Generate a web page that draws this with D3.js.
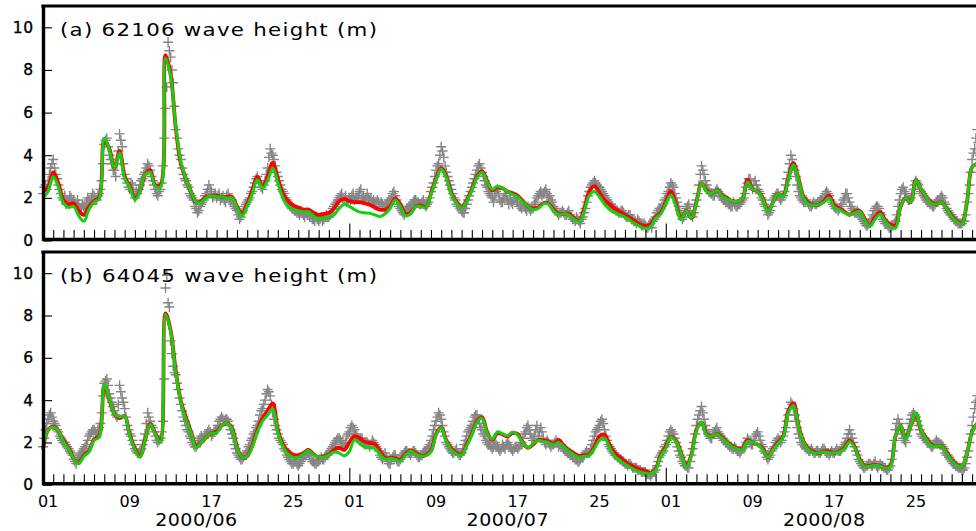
<!DOCTYPE html>
<html><head><meta charset="utf-8">
<script src="https://cdn.jsdelivr.net/npm/d3@7/dist/d3.min.js"></script>
<style>html,body{margin:0;padding:0;background:#fff;overflow:hidden}</style>
</head><body>
<svg id="c" width="976" height="531"></svg>
<script>
// ---------------- data ----------------
const startUTC = [2000, 5, 1];      // 2000-06-01
const endUTC = [2000, 8, 1];        // 2000-09-01
const lineStepDays = 0.5;           // model series: every 12 h
const obsStepDays = 0.125;          // buoy observations: every 3 h
const yTicks = [0, 2, 4, 6, 8, 10];
const dayLabels = ["01", "09", "17", "25"];
const monthLabels = ["2000/06", "2000/07", "2000/08"];
const titleA = "(a) 62106 wave height (m)";
const titleB = "(b) 64045 wave height (m)";

// observations, 8 per day
const obsA = [
2.2,2.5,2.6,2.4,2.8,3.1,3.4,3.6, 3.8,3.4,3.1,2.9,2.6,2.4,2.2,2.0,
1.9,2.1,1.7,1.9,1.8,2.1,2.0,1.8, 1.9,1.7,1.6,1.9,1.7,1.5,1.5,1.7,
1.6,1.5,1.8,2.0,1.9,1.7,2.0,2.2, 2.1,1.9,1.9,2.1,2.2,2.4,2.8,3.6,
4.5,4.7,4.8,4.4,4.0,3.8,3.6,3.3, 3.3,3.0,3.6,4.2,5.0,4.7,4.4,3.6,
3.1,2.9,2.7,2.5,2.4,2.7,2.6,2.3, 2.0,2.3,2.2,2.4,2.6,2.8,2.9,3.1,
3.2,3.4,3.6,3.5,3.3,3.0,2.8,2.6, 2.4,2.2,2.1,2.3,2.4,2.7,3.5,4.8,
6.2,7.2,9.3,8.9,8.6,8.0,7.4,6.3, 5.2,4.8,4.3,4.0,3.8,3.4,3.1,2.9,
2.8,2.6,2.5,2.2,2.1,2.0,1.9,1.6, 1.5,1.3,1.4,1.6,1.7,1.8,1.9,2.1,
2.2,2.4,2.6,2.4,2.3,2.0,2.1,2.2, 2.0,2.1,2.2,1.9,2.0,2.1,1.9,1.8,
2.1,2.2,2.0,1.8,1.9,1.7,1.6,1.5, 1.4,1.2,1.0,1.1,1.3,1.4,1.6,1.7,
1.8,1.9,2.0,2.2,2.3,2.5,2.7,2.9, 3.0,2.8,2.7,2.5,2.4,2.6,2.8,3.1,
3.4,3.9,4.3,4.1,4.0,3.8,3.5,3.2, 3.0,2.8,2.6,2.4,2.3,2.2,2.0,1.9,
1.8,1.7,1.6,1.5,1.5,1.4,1.4,1.3, 1.3,1.2,1.4,1.3,1.2,1.1,1.3,1.2,
1.3,1.1,1.2,1.0,1.0,0.9,1.1,1.0, 0.9,1.0,1.1,0.9,1.0,1.1,1.2,1.1,
1.1,1.2,1.3,1.5,1.6,1.7,1.8,1.9, 2.0,2.1,2.2,2.0,1.9,2.1,1.8,1.9,
2.0,1.9,2.1,2.2,1.9,2.0,2.0,2.1, 2.3,2.4,2.0,2.1,1.9,2.0,2.2,2.0,
1.9,2.0,1.8,1.9,1.7,1.8,1.9,1.8, 1.6,1.8,1.7,1.6,1.5,1.7,1.8,1.9,
1.9,2.0,2.2,2.3,2.1,1.9,1.7,1.6, 1.5,1.4,1.3,1.2,1.4,1.5,1.5,1.6,
1.6,1.7,1.8,1.9,1.9,1.8,1.8,1.7, 1.7,1.8,1.9,1.7,1.6,1.7,1.8,2.0,
2.3,2.5,2.7,3.0,3.3,3.5,3.6,4.0, 4.4,4.2,3.9,3.5,3.2,3.0,2.8,2.6,
2.4,2.2,2.0,1.9,1.7,1.6,1.6,1.5, 1.4,1.3,1.3,1.5,1.7,1.9,2.1,2.3,
2.5,2.7,2.9,3.1,3.3,3.5,3.6,3.4, 3.2,3.0,2.8,2.6,2.5,2.3,2.2,2.1,
2.0,1.8,2.1,2.3,2.4,2.2,1.9,1.8, 1.8,2.0,2.2,2.1,1.9,1.7,2.0,1.8,
1.7,1.9,2.0,1.8,1.8,1.6,1.6,1.5, 1.7,1.6,1.5,1.4,1.6,1.5,1.4,1.5,
1.5,1.7,1.8,2.0,2.1,2.2,2.3,2.1, 2.2,2.3,2.4,2.2,2.0,2.1,1.9,1.8,
1.6,1.5,1.4,1.3,1.2,1.3,1.3,1.4, 1.3,1.2,1.2,1.3,1.4,1.2,1.1,1.0,
1.0,0.9,1.1,1.0,0.9,0.8,1.0,1.1, 1.3,1.5,1.8,2.1,2.3,2.5,2.6,2.7,
2.8,2.7,2.6,2.5,2.5,2.4,2.3,2.2, 2.1,2.0,1.9,1.8,1.7,1.7,1.6,1.5,
1.5,1.4,1.4,1.3,1.3,1.4,1.4,1.3, 1.2,1.1,1.1,1.2,1.2,1.0,1.0,0.9,
0.9,0.8,1.0,0.9,0.8,0.7,0.7,0.8, 0.7,0.6,0.6,0.7,0.8,0.6,0.9,1.0,
1.1,1.3,1.4,1.5,1.5,1.6,1.7,1.9, 2.0,2.2,2.3,2.5,2.7,2.6,2.5,2.2,
2.0,1.8,1.6,1.4,1.2,1.0,1.1,1.3, 1.5,1.6,1.7,1.4,1.2,1.1,1.3,1.6,
1.9,2.2,2.6,3.1,3.5,3.3,3.1,2.8, 2.6,2.4,2.3,2.2,2.2,2.1,2.1,2.3,
2.4,2.3,2.2,2.1,2.0,1.9,1.9,1.8, 1.8,1.7,1.7,1.6,1.6,1.8,1.7,1.6,
1.6,1.7,1.7,1.8,1.9,2.0,2.2,2.5, 2.7,2.9,2.9,2.6,2.4,2.6,2.8,2.6,
2.4,2.3,2.2,2.0,1.9,1.7,1.6,1.4, 1.2,1.3,1.4,1.6,1.9,2.0,2.1,2.2,
2.2,2.0,1.9,2.0,2.1,2.3,2.6,2.9, 3.2,3.6,4.0,3.8,3.5,3.3,3.0,2.6,
2.3,2.1,2.0,1.9,1.8,1.8,1.9,1.8, 1.7,1.6,1.6,1.7,1.8,1.7,1.7,1.8,
1.8,1.9,1.9,2.0,2.0,2.2,2.3,2.2, 2.1,1.9,1.8,1.7,1.6,1.5,1.5,1.4,
1.5,1.6,1.7,1.9,2.0,2.2,2.2,2.0, 1.8,1.6,1.5,1.4,1.3,1.3,1.4,1.3,
1.2,1.1,1.0,0.9,0.8,0.7,0.7,0.8, 0.9,1.0,1.2,1.4,1.5,1.6,1.6,1.5,
1.3,1.2,1.0,0.9,0.8,0.8,0.7,0.6, 0.6,0.7,0.7,0.8,0.9,1.2,1.6,1.9,
2.2,2.4,2.5,2.3,2.2,2.0,1.9,1.9, 2.0,2.2,2.4,2.6,2.8,2.7,2.6,2.4,
2.3,2.2,2.1,2.0,1.9,1.8,1.8,1.7, 1.7,1.6,1.6,1.7,1.8,1.9,1.9,2.0,
2.1,2.0,1.8,1.7,1.5,1.4,1.3,1.2, 1.2,1.1,1.0,0.9,0.9,0.8,0.8,0.8,
0.8,0.9,0.9,1.2,1.8,2.2,2.6,3.2, 3.8,4.1,4.3,4.8,5.2,4.6,4.0,3.9
];
const redA = [
2.3,2.5,3.2,2.7,1.9,1.7,1.75,1.4,1.2,1.6,
1.85,2.0,4.7,4.3,3.4,4.2,3.0,2.55,2.0,2.3,
3.1,3.3,2.6,2.6,8.7,7.8,5.3,3.6,2.9,2.3,
1.8,1.85,2.05,2.1,2.1,2.05,2.05,2.05,1.6,1.25,
1.7,2.35,3.0,2.5,3.0,3.65,2.9,2.2,1.85,1.65,
1.55,1.45,1.45,1.3,1.2,1.25,1.3,1.5,1.85,1.95,
1.85,1.8,1.8,1.75,1.68,1.55,1.45,1.45,1.6,1.98,
1.7,1.25,1.3,1.6,1.65,1.55,2.2,2.9,3.4,3.0,
2.2,1.8,1.55,1.9,2.4,3.0,3.25,2.8,2.35,2.5,
2.45,2.3,2.22,2.1,1.85,1.6,1.5,1.55,1.75,1.75,
1.45,1.25,1.25,1.25,1.05,0.92,1.5,2.3,2.55,2.25,
1.9,1.7,1.5,1.35,1.2,1.05,0.9,0.75,0.68,0.75,
1.1,1.3,1.8,2.33,1.7,1.0,1.4,1.05,1.8,2.69,
2.35,2.2,2.37,2.15,2.0,1.85,1.83,1.95,2.85,2.4,
2.3,2.0,1.4,1.8,2.2,2.1,2.9,3.63,2.9,2.05,
1.75,1.68,1.68,1.85,2.11,1.65,1.5,1.35,1.2,1.35,
1.39,1.0,0.7,1.1,1.33,0.95,0.75,0.7,1.6,2.0,
1.8,2.84,2.4,2.05,1.8,1.7,1.8,1.5,1.15,0.9,
0.8,1.8,3.45,3.6
];
const greenA = [
2.0,2.3,3.0,2.5,1.75,1.55,1.6,1.15,0.9,1.45,
1.8,1.95,4.8,4.25,3.4,4.1,2.9,2.5,1.9,2.3,
3.1,3.2,2.55,2.5,8.55,7.7,5.4,3.7,2.9,2.3,
1.8,1.8,2.0,2.1,2.05,2.05,2.0,2.0,1.55,1.15,
1.6,2.2,2.85,2.45,2.8,3.4,2.7,2.0,1.6,1.45,
1.4,1.35,1.35,1.15,1.0,1.05,1.05,1.2,1.5,1.7,
1.6,1.45,1.33,1.3,1.28,1.2,1.12,1.25,1.5,1.9,
1.6,1.15,1.25,1.6,1.6,1.55,2.15,2.85,3.35,2.95,
2.15,1.75,1.52,1.85,2.35,2.95,3.2,2.75,2.4,2.55,
2.45,2.3,2.15,2.05,1.8,1.6,1.45,1.5,1.72,1.72,
1.4,1.22,1.25,1.2,1.0,0.88,1.35,2.1,2.3,2.05,
1.7,1.45,1.3,1.2,1.1,0.95,0.78,0.65,0.56,0.65,
1.05,1.25,1.72,2.14,1.6,0.97,1.39,1.05,1.75,2.69,
2.3,2.2,2.37,2.1,1.95,1.85,1.83,1.95,2.75,2.4,
2.3,1.95,1.35,1.8,2.2,2.06,2.85,3.55,2.85,2.0,
1.7,1.67,1.67,1.8,2.0,1.55,1.45,1.3,1.2,1.3,
1.35,0.95,0.66,1.0,1.23,0.9,0.65,0.58,1.6,2.0,
1.8,2.84,2.4,2.05,1.75,1.7,1.8,1.5,1.12,0.88,
0.77,1.8,3.45,3.6
];
const obsB = [
1.8,2.2,2.6,2.9,3.1,3.3,3.4,3.2, 3.0,2.9,2.8,2.6,2.5,2.3,2.2,2.1,
2.0,2.0,1.9,1.8,1.7,1.6,1.5,1.4, 1.2,1.1,1.0,1.2,1.3,1.4,1.5,1.6,
1.7,1.8,1.9,2.1,2.3,2.4,2.5,2.6, 2.6,2.5,2.4,2.6,2.7,2.9,3.4,4.2,
4.8,4.9,5.0,4.7,4.3,4.1,3.9,3.7, 3.5,3.3,3.2,3.8,4.7,4.4,4.1,3.9,
3.6,3.2,2.8,2.6,2.4,2.3,2.1,1.9, 1.7,1.6,1.5,1.5,1.6,1.7,1.9,2.1,
2.4,2.9,3.4,3.2,3.0,2.8,2.7,2.5, 2.3,2.1,2.0,2.1,2.2,2.5,3.0,5.0,
9.3,9.9,8.6,8.4,6.8,6.2,5.6,5.3, 5.2,4.8,4.5,4.1,3.8,3.5,3.2,3.0,
2.8,2.6,2.5,2.3,2.2,2.0,1.9,1.8, 1.8,1.9,2.1,2.2,2.3,2.2,2.2,2.3,
2.4,2.5,2.6,2.5,2.3,2.4,2.5,2.6, 2.6,2.8,3.0,3.1,3.2,3.1,3.0,3.1,
3.1,3.0,2.8,2.6,2.4,2.2,1.9,1.7, 1.5,1.4,1.3,1.2,1.2,1.3,1.4,1.5,
1.6,1.8,1.9,2.1,2.2,2.4,2.5,2.7, 2.8,3.0,3.3,3.5,3.6,3.8,4.0,4.3,
4.5,4.4,4.2,3.8,3.4,3.1,2.8,2.6, 2.4,2.2,2.1,2.0,1.9,1.7,1.6,1.4,
1.3,1.2,1.1,1.0,1.0,1.1,1.2,1.0, 0.9,1.0,1.1,1.2,1.3,1.4,1.4,1.5,
1.5,1.4,1.2,1.1,1.1,1.0,1.0,1.1, 1.1,1.2,1.3,1.2,1.2,1.3,1.4,1.4,
1.5,1.6,1.7,1.8,1.9,2.0,2.1,2.2, 2.2,2.1,2.0,1.9,1.8,2.0,2.3,2.4,
2.5,2.7,2.8,2.7,2.6,2.4,2.3,2.2, 2.1,2.2,2.2,2.0,1.9,2.0,2.0,1.9,
1.8,1.9,2.1,2.0,1.9,1.8,1.7,1.6, 1.4,1.3,1.2,1.4,1.5,1.3,1.1,1.0,
1.0,1.2,1.3,1.4,1.4,1.2,1.1,1.1, 1.2,1.3,1.4,1.5,1.6,1.6,1.5,1.5,
1.4,1.5,1.6,1.6,1.5,1.4,1.3,1.3, 1.4,1.4,1.5,1.6,1.6,1.7,1.8,1.9,
2.1,2.3,2.6,2.8,3.0,3.2,3.4,3.3, 3.1,2.8,2.5,2.3,2.0,1.9,1.8,1.7,
1.6,1.5,1.5,1.6,1.7,1.5,1.4,1.4, 1.5,1.7,1.9,2.1,2.3,2.5,2.6,2.7,
2.8,3.0,3.2,3.3,3.3,3.1,2.9,2.7, 2.6,2.4,2.3,2.1,2.0,1.9,1.9,1.8,
1.7,1.8,2.0,1.9,1.8,1.7,1.6,1.7, 1.9,1.8,1.7,1.9,2.0,1.9,1.8,1.7,
1.6,1.7,1.8,1.8,1.7,1.8,1.9,2.0, 2.2,2.4,2.5,2.7,2.8,2.6,2.4,2.2,
2.1,2.3,2.6,2.8,2.3,2.5,2.7,2.5, 2.2,2.0,1.9,2.1,2.0,1.9,1.8,1.9,
1.9,2.0,2.1,2.0,1.8,1.9,1.9,1.8, 1.7,1.6,1.6,1.5,1.5,1.4,1.4,1.3,
1.3,1.2,1.2,1.1,1.1,1.2,1.3,1.3, 1.4,1.5,1.6,1.5,1.5,1.7,1.9,2.1,
2.3,2.5,2.6,2.7,2.8,3.0,3.1,2.9, 2.6,2.3,2.1,1.9,1.8,1.7,1.6,1.5,
1.4,1.4,1.3,1.3,1.2,1.2,1.1,1.1, 1.0,1.0,0.9,1.0,1.0,0.9,0.8,0.8,
0.8,0.8,0.7,0.7,0.7,0.6,0.6,0.6, 0.6,0.5,0.5,0.5,0.4,0.5,0.6,0.6,
0.7,0.9,1.1,1.3,1.4,1.5,1.6,1.8, 1.9,2.1,2.3,2.5,2.6,2.5,2.4,2.2,
2.0,1.8,1.6,1.4,1.3,1.1,1.0,0.9, 0.9,0.8,0.8,1.1,1.4,1.7,2.0,2.4,
2.8,3.1,3.3,3.5,3.7,3.4,3.1,2.8, 2.6,2.4,2.3,2.2,2.2,2.4,2.5,2.6,
2.7,2.5,2.4,2.3,2.2,2.1,2.1,2.0, 2.0,1.9,1.8,1.8,1.7,1.7,1.8,1.7,
1.6,1.6,1.5,1.6,1.7,1.8,1.8,2.0, 2.2,2.1,2.0,1.9,1.9,2.1,2.3,2.4,
2.5,2.3,2.1,1.9,1.8,1.6,1.5,1.3, 1.2,1.3,1.4,1.6,1.7,1.8,2.0,2.1,
2.2,2.1,2.0,2.1,2.3,2.5,2.7,3.0, 3.3,3.6,3.9,3.8,3.6,3.3,3.0,2.7,
2.4,2.2,2.0,1.9,1.9,1.8,1.7,1.7, 1.6,1.6,1.7,1.6,1.5,1.5,1.6,1.6,
1.5,1.5,1.6,1.7,1.7,1.6,1.5,1.5, 1.4,1.5,1.6,1.5,1.5,1.6,1.7,1.6,
1.6,1.6,1.7,1.8,1.9,2.0,2.2,2.4, 2.6,2.4,2.2,2.0,1.8,1.6,1.4,1.2,
1.1,1.0,0.9,0.8,0.8,0.9,0.9,1.0, 1.0,0.9,0.9,1.0,1.1,0.9,0.8,0.9,
1.0,0.9,0.9,0.8,0.8,0.7,0.7,0.8, 0.9,1.2,1.6,2.1,2.6,2.9,3.1,2.9,
2.6,2.4,2.2,2.1,2.0,2.3,2.6,2.9, 3.1,3.3,3.4,3.3,3.2,3.0,2.8,2.6,
2.4,2.3,2.2,2.2,2.1,2.0,2.0,1.9, 1.8,1.8,1.9,2.0,2.1,2.0,2.0,1.9,
1.9,1.8,1.7,1.5,1.4,1.4,1.3,1.2, 1.1,1.0,1.0,0.9,0.9,0.8,0.8,0.8,
0.7,0.7,0.8,1.0,1.3,1.6,2.0,2.4, 2.8,3.2,3.6,3.9,4.2,4.0,3.9,3.8
];
const redB = [
1.68,2.6,2.75,2.55,2.1,1.75,1.25,1.05,1.4,1.6,
2.15,2.3,4.72,4.0,3.35,3.15,3.25,2.36,1.7,1.35,
2.12,2.88,2.44,2.05,8.1,7.3,5.4,3.95,3.2,2.5,
1.8,2.0,2.25,2.44,2.5,2.8,2.9,2.7,1.8,1.3,
1.35,1.85,2.6,3.15,3.5,3.85,2.6,1.9,1.6,1.42,
1.4,1.5,1.65,1.45,1.3,1.35,1.42,1.65,1.75,1.65,
2.0,2.3,2.2,2.04,1.98,1.93,1.6,1.26,1.28,1.25,
1.18,1.45,1.62,1.5,1.38,1.4,1.6,2.4,2.72,2.1,
1.7,1.5,1.42,1.9,2.4,3.0,3.2,2.5,2.12,2.44,
2.38,2.28,2.45,2.4,2.0,1.75,1.9,2.12,2.1,2.05,
1.93,2.12,1.85,1.65,1.5,1.37,1.4,1.42,1.8,2.3,
2.36,1.9,1.5,1.3,1.1,0.94,0.82,0.72,0.66,0.55,
0.75,1.4,1.8,2.25,2.1,1.5,0.9,1.4,2.6,2.95,
2.4,2.3,2.4,2.25,2.0,1.85,1.72,1.7,2.1,2.0,
1.9,1.7,1.3,1.7,2.0,2.3,3.5,3.85,2.8,2.04,
1.7,1.55,1.5,1.58,1.58,1.5,1.58,1.75,2.1,1.8,
1.2,0.88,0.9,0.94,0.9,0.8,0.9,2.3,2.8,2.2,
2.8,3.35,2.6,2.2,1.9,1.8,1.84,1.55,1.18,0.95,
0.86,1.5,2.5,2.9
];
const greenB = [
1.68,2.6,2.72,2.55,2.05,1.7,1.25,1.0,1.35,1.55,
2.1,2.25,4.75,4.05,3.35,3.2,3.25,2.3,1.65,1.3,
2.1,2.85,2.4,2.0,8.05,7.25,5.3,3.9,3.1,2.45,
1.75,2.0,2.25,2.44,2.45,2.8,2.9,2.65,1.75,1.3,
1.35,1.8,2.5,3.0,3.3,3.6,2.5,1.8,1.45,1.3,
1.3,1.45,1.62,1.42,1.3,1.32,1.4,1.55,1.5,1.37,
1.57,2.12,1.95,1.78,1.75,1.73,1.45,1.2,1.25,1.2,
1.12,1.4,1.6,1.45,1.35,1.38,1.55,2.35,2.7,2.05,
1.65,1.45,1.4,1.85,2.35,2.95,3.15,2.45,2.15,2.5,
2.42,2.32,2.5,2.35,1.98,1.75,1.95,2.1,2.05,2.0,
1.9,2.0,1.8,1.6,1.42,1.3,1.35,1.38,1.7,2.1,
2.2,1.75,1.35,1.15,0.98,0.83,0.7,0.6,0.55,0.52,
0.7,1.35,1.72,2.25,2.05,1.45,0.85,1.35,2.55,2.95,
2.35,2.3,2.4,2.2,1.98,1.8,1.7,1.65,2.05,2.0,
1.9,1.65,1.3,1.65,1.95,2.25,3.4,3.75,2.75,2.0,
1.65,1.5,1.5,1.55,1.52,1.5,1.55,1.7,2.04,1.75,
1.15,0.86,0.88,0.92,0.88,0.78,0.85,2.3,2.8,2.15,
2.8,3.4,2.6,2.15,1.85,1.8,1.84,1.5,1.15,0.92,
0.86,1.5,2.5,2.9
];

// ---------------- layout ----------------
const W = 976, H = 531;
const DAY = 864e5;
const t0 = Date.UTC(...startUTC);
const tEnd = Date.UTC(...endUTC);
const svg = d3.select("#c");
const x = d3.scaleUtc().domain([new Date(t0), new Date(tEnd)]).range([43, 982.3]);

const panels = [
  {title: titleA, obs: obsA, red: redA, green: greenA, top: 6, bottom: 240.5, xlabels: false},
  {title: titleB, obs: obsB, red: redB, green: greenB, top: 252, bottom: 484.8, xlabels: true}
];

const defs = svg.append("defs");
const M = 5; // half-size of the "+" observation marker

panels.forEach((p, i) => {
  const y = d3.scaleLinear().domain([0, 11]).range([p.bottom, p.top]);
  const g = svg.append("g");

  defs.append("clipPath").attr("id", "clip" + i)
    .append("rect").attr("x", 38).attr("y", p.top).attr("width", W).attr("height", p.bottom - p.top);

  const dg = g.append("g").attr("clip-path", `url(#clip${i})`);

  const obsPts = p.obs.map((v, k) => ({t: new Date(t0 + k * obsStepDays * DAY), v}));
  const linePts = arr => arr.map((v, k) => ({t: new Date(t0 + k * lineStepDays * DAY), v}));

  dg.append("g").selectAll("path").data(obsPts).join("path")
    .attr("d", d => `M${x(d.t) - M},${y(d.v)}h${2 * M}M${x(d.t)},${y(d.v) - M}v${2 * M}`)
    .attr("stroke", "#858585").attr("stroke-width", 1.4).attr("fill", "none");

  const line = d3.line().x(d => x(d.t)).y(d => y(d.v)).curve(d3.curveCatmullRom.alpha(0.5));
  dg.append("path").datum(linePts(p.red)).attr("d", line)
    .attr("fill", "none").attr("stroke", "#ff0000").attr("stroke-width", 3.8).attr("stroke-linejoin", "round");
  dg.append("path").datum(linePts(p.green)).attr("d", line)
    .attr("fill", "none").attr("stroke", "#12d012").attr("stroke-width", 3).attr("stroke-linejoin", "round");

  // bottom axis with daily inward ticks
  const xAxis = d3.axisBottom(x).ticks(d3.utcDay.every(1)).tickSize(-9).tickSizeOuter(0).tickFormat("");
  const xa = g.append("g").attr("transform", `translate(0,${p.bottom - 1.5})`).call(xAxis);
  xa.select(".domain").attr("stroke-width", 3.4);
  xa.selectAll(".tick line").attr("stroke-width", 1.1)
    .attr("y2", d => d.getUTCDate() === 1 ? -15.5 : -9);
  xa.selectAll(".tick").filter(d => +d === t0).remove();

  // left axis with inward ticks
  const yAxis = d3.axisLeft(y).tickValues(yTicks).tickSize(-9).tickSizeOuter(0).tickPadding(9);
  const ya = g.append("g").attr("transform", `translate(43,0)`).call(yAxis);
  ya.select(".domain").attr("stroke-width", 3.4);
  ya.selectAll(".tick line").attr("stroke-width", 1.1);
  ya.selectAll(".tick text").attr("font-family", "DejaVu Sans").attr("font-size", 15.5)
    .attr("fill", "#000").attr("stroke", "#000").attr("stroke-width", 0.35).attr("letter-spacing", 0.8);

  // top border
  g.append("line").attr("x1", 41.3).attr("x2", W).attr("y1", p.top).attr("y2", p.top)
    .attr("stroke", "#000").attr("stroke-width", 3);

  // title (wide, evenly spaced lettering)
  g.append("text").attr("transform", `translate(60,${p.top + 29.5}) scale(1.22,1)`).text(p.title)
    .attr("font-family", "DejaVu Sans").attr("font-size", 17.5).attr("fill", "#000")
    .attr("textLength", 317 / 1.22).attr("lengthAdjust", "spacing");

  if (p.xlabels) {
    const months = d3.utcMonths(new Date(t0), new Date(tEnd));
    months.forEach((m, mi) => {
      dayLabels.forEach(lab => {
        const t = Date.UTC(m.getUTCFullYear(), m.getUTCMonth(), +lab, 12);
        g.append("text").attr("x", x(new Date(t))).attr("y", 507).attr("text-anchor", "middle")
          .attr("font-family", "DejaVu Sans").attr("font-size", 16).attr("fill", "#000").text(lab);
      });
      const mEnd = d3.utcMonth.offset(m, 1);
      const cx = (x(m) + x(mEnd)) / 2;
      g.append("text").attr("transform", `translate(${cx},526) scale(1.12,1)`).attr("text-anchor", "middle")
        .attr("font-family", "DejaVu Sans").attr("font-size", 17).attr("fill", "#000")
        .attr("textLength", 82 / 1.12).attr("lengthAdjust", "spacing").text(monthLabels[mi]);
    });
  }
});
</script>
</body></html>
